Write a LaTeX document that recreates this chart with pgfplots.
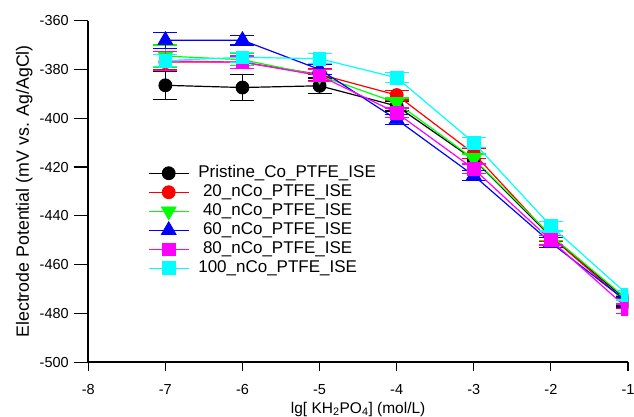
\documentclass[border=0pt]{standalone}
\usepackage{pgfplots}
\pgfplotsset{compat=1.18}
\usepackage{fontspec}
\setmainfont{Liberation Sans}
\definecolor{cRed}{RGB}{255,0,0}
\definecolor{cGreen}{RGB}{0,255,0}
\definecolor{cBlue}{RGB}{0,0,255}
\definecolor{cMag}{RGB}{255,0,255}
\definecolor{cCyan}{RGB}{0,255,255}
\begin{document}
\begin{tikzpicture}
\begin{axis}[
  scale only axis, width=540pt, height=341.6pt,
  xmin=-8, xmax=-1, ymin=-500, ymax=-360,
  axis lines=left,
  axis line style={line width=1.6pt, -},
  xtick={-8,-7,-6,-5,-4,-3,-2,-1},
  ytick={-500,-480,-460,-440,-420,-400,-380,-360},
  tick align=outside, major tick length=9pt,
  tick style={line width=1.2pt, black},
  ytick style={/pgfplots/major tick length=14pt},
  /pgf/number format/assume math mode=true,
  tick label style={font=\fontsize{14.5}{16}\selectfont},
  yticklabel style={xshift=-7pt},
  xticklabel style={yshift=-10pt},
  xlabel={lg[ KH\textsubscript{2}PO\textsubscript{4}] (mol/L)},
  ylabel={Electrode Potential (mV vs. Ag/AgCl)},
  xlabel style={font=\fontsize{15.5}{18}\selectfont, at={(axis description cs:0.5,-0.1376)}, anchor=center},
  ylabel style={font=\fontsize{17.8}{21}\selectfont, at={(axis description cs:-0.1185,0.5)}, anchor=center},
  clip marker paths=true,
  legend style={draw=none, fill=none, at={(axis description cs:0.105,0.586)}, anchor=north west,
    font=\fontsize{17}{20}\selectfont, row sep=1pt,
    nodes={inner sep=1pt, text height=12pt, text depth=4pt}},
  legend cell align=left,
  legend image code/.code={\draw[mark repeat=2,mark phase=2] plot coordinates {(0pt,0pt)(20pt,0pt)(40pt,0pt)};\path (48pt,0pt);},
  every axis plot/.append style={line width=1.2pt},
  error bars/error bar style={line width=1.2pt},
  error bars/error mark options={rotate=90, mark size=12pt, line width=1.2pt},
]
\addplot[black, mark=*, mark size=6.5pt, mark options={fill=black, line width=0.8pt},
  error bars/.cd, y dir=both, y explicit] table[x=x, y=y, y error=e] {
x y e
-7 -386.5 5.8
-6 -387.4 5.4
-5 -386.7 3.2
-4 -395 2
-3 -417 2
-2 -448.5 2
-1 -475 2
};
\addlegendentry{Pristine\_Co\_PTFE\_ISE}
\addplot[cRed, mark=*, mark size=6.5pt, mark options={fill=cRed, line width=0.8pt},
  error bars/.cd, y dir=both, y explicit] table[x=x, y=y, y error=e] {
x y e
-7 -377 3
-6 -377 2.5
-5 -382 2.5
-4 -390.5 2
-3 -414.5 2
-2 -448.5 2
-1 -476 2
};
\addlegendentry{\ 20\_nCo\_PTFE\_ISE}
\addplot[cGreen, mark=triangle*, mark size=8.5pt, mark options={fill=cGreen, rotate=180, line width=0.8pt},
  error bars/.cd, y dir=both, y explicit] table[x=x, y=y, y error=e] {
x y e
-7 -374.5 4.5
-6 -376 2.5
-5 -382.5 2.5
-4 -393.7 2
-3 -416.7 2
-2 -448 2
-1 -474.5 2
};
\addlegendentry{\ 40\_nCo\_PTFE\_ISE}
\addplot[cBlue, mark=triangle*, mark size=8.5pt, mark options={fill=cBlue, line width=0.8pt},
  error bars/.cd, y dir=both, y explicit] table[x=x, y=y, y error=e] {
x y e
-7 -368 3.3
-6 -368 2
-5 -380 2
-4 -400.5 2
-3 -423.5 2
-2 -451 2
-1 -475.5 2
};
\addlegendentry{\ 60\_nCo\_PTFE\_ISE}
\addplot[cMag, mark=square*, mark size=6.3pt, mark options={fill=cMag, line width=0.8pt},
  error bars/.cd, y dir=both, y explicit] table[x=x, y=y, y error=e] {
x y e
-7 -376.5 4
-6 -377 2.5
-5 -382.5 2.5
-4 -397.8 2
-3 -420.8 2
-2 -450 2
-1 -478.2 2
};
\addlegendentry{\ 80\_nCo\_PTFE\_ISE}
\addplot[cCyan, mark=square*, mark size=6.3pt, mark options={fill=cCyan, line width=0.8pt},
  error bars/.cd, y dir=both, y explicit] table[x=x, y=y, y error=e] {
x y e
-7 -376.4 2.5
-6 -375 2
-5 -375.6 2
-4 -383.4 2
-3 -410 2
-2 -444.2 2
-1 -472.5 2
};
\addlegendentry{100\_nCo\_PTFE\_ISE}
\end{axis}
\pgfresetboundingbox
\path ([xshift=-88.3pt, yshift=-54.7pt]current axis.south west) rectangle ([xshift=6pt, yshift=20.7pt]current axis.north east);
\end{tikzpicture}
\end{document}
